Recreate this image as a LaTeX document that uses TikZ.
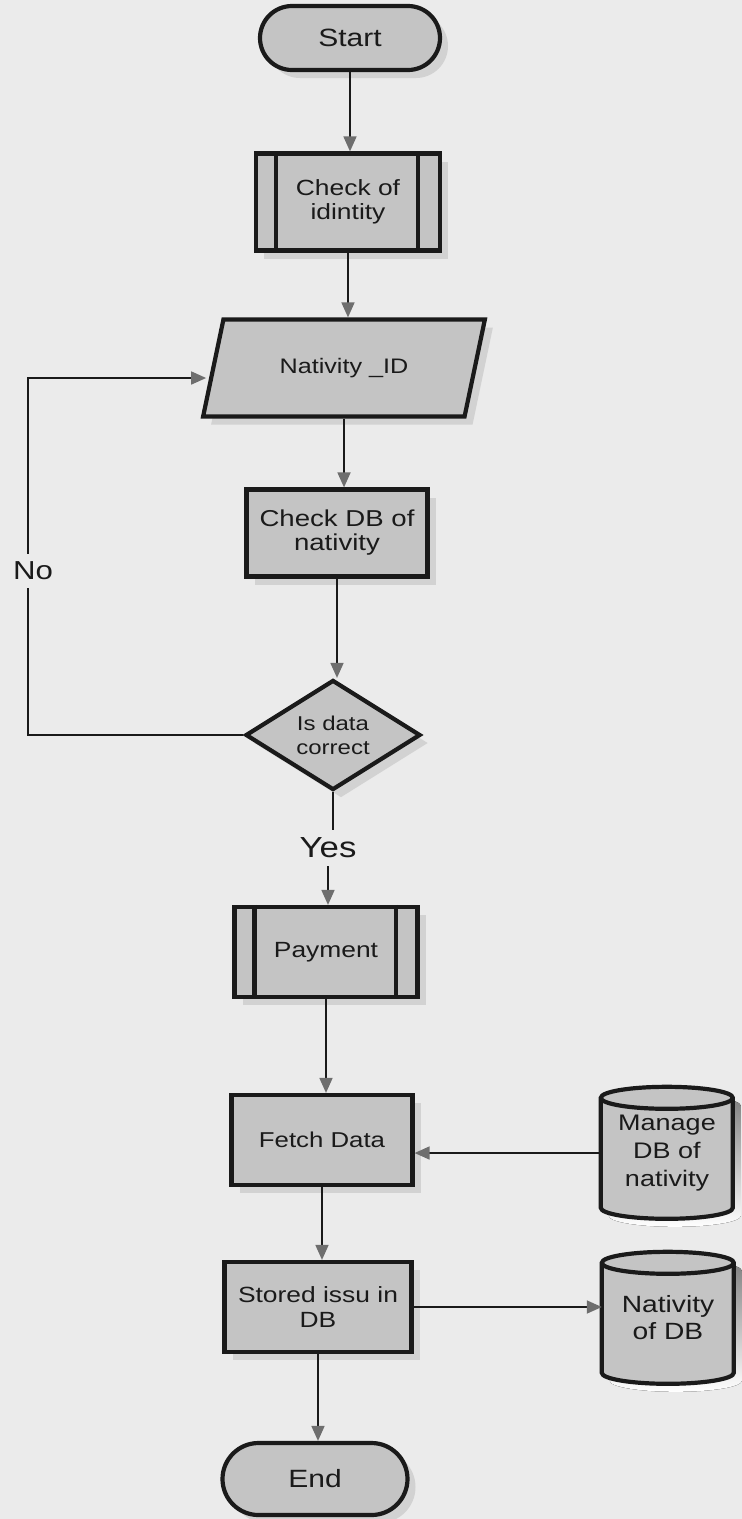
\documentclass[tikz,border=0pt]{standalone}
\usepackage{fontspec}
\setmainfont{Liberation Sans}[FakeStretch=1.2]
\usetikzlibrary{shapes.geometric,shadows,arrows.meta}
\pgfdeclarelayer{bg}
\pgfsetlayers{bg,main}
\definecolor{paper}{HTML}{EBEBEB}
\definecolor{boxfill}{HTML}{C4C4C4}
\definecolor{shade}{HTML}{D2D2D2}
\definecolor{tipc}{HTML}{6E6E6E}
\definecolor{ink}{HTML}{1A1A1A}
\begin{document}
\begin{tikzpicture}[x=1pt,y=-1pt,
  sz/.style 2 args={font=\fontsize{#1}{#2}\selectfont},
  shp/.style={draw=ink, line width=4.2pt, fill=boxfill, text=ink, align=center, inner sep=0pt,
     drop shadow={shadow xshift=8pt, shadow yshift=-8pt, fill=shade, opacity=1}},
  termbox/.style={shp, rectangle, rounded corners=#1},
  procbox/.style={shp, rectangle},
  conn/.style={draw=ink, line width=1.7pt, -{Triangle[length=15pt,width=13pt,color=tipc]}},
  plainline/.style={draw=ink, line width=1.7pt},
  thickline/.style={draw=ink, line width=4.2pt},
  cyl/.style={draw=ink, line width=4.2pt, fill=boxfill},
  dbtext/.style={minimum width=132pt, minimum height=132pt, inner sep=0pt, align=center, text=ink},
  lbl/.style={text=ink, inner sep=0pt}
]
\begin{pgfonlayer}{bg}
\fill[paper] (0,0) rectangle (742,1519);
\end{pgfonlayer}
\useasboundingbox (0,0) rectangle (742,1519);

% nodes
\node[termbox=32pt, minimum width=180pt, minimum height=64pt, sz={25}{28}] (start) at (350,38) {Start};
\node[procbox, minimum width=184pt, minimum height=97pt, sz={22}{24}] (ident) at (348,202) {Check of\\idintity};
\draw[thickline] ([xshift=22pt]ident.north west) -- ([xshift=22pt]ident.south west);
\draw[thickline] ([xshift=-24pt]ident.north east) -- ([xshift=-24pt]ident.south east);

\node[shp, trapezium, trapezium left angle=61, trapezium right angle=119, trapezium stretches=true,
      minimum width=282pt, minimum height=97pt, sz={21}{24}] (nat) at (344,368) {Nativity \_ID};

\node[procbox, minimum width=181pt, minimum height=87pt, sz={23}{24}] (chk) at (337,533) {Check DB of\\nativity};

\node[shp, diamond, aspect=1.6, minimum width=175pt, minimum height=110pt, sz={20}{24}] (dec) at (333,735) {Is data\\correct};

\node[lbl, minimum height=36pt, sz={29}{30}] (yes) at (328,848) {Yes};

\node[procbox, minimum width=183pt, minimum height=90pt, sz={22}{24}] (pay) at (326,952) {Payment};
\draw[thickline] ([xshift=22pt]pay.north west) -- ([xshift=22pt]pay.south west);
\draw[thickline] ([xshift=-24pt]pay.north east) -- ([xshift=-24pt]pay.south east);

\node[procbox, minimum width=181pt, minimum height=90pt, sz={21.5}{24}] (fetch) at (322,1140) {Fetch Data};
\node[procbox, minimum width=187pt, minimum height=90pt, sz={22}{25}] (store) at (318,1307) {Stored issu in\\DB};
\node[termbox=36pt, minimum width=185pt, minimum height=72pt, sz={25}{28}] (end) at (315,1479) {End};

\node[dbtext, sz={22.5}{28}] (mdb) at (667,1153) {Manage\\DB of\\nativity};
\node[dbtext, sz={23.5}{27}] (ndb) at (668,1318) {Nativity\\of DB};

% cylinders behind their texts
\begin{pgfonlayer}{bg}
\foreach \c in {mdb,ndb}{
  \fill[shade] ([shift={(8pt,-8pt)},yshift=-11pt]\c.north west) -- ++(0pt,-110pt)
     arc[start angle=180,end angle=360,x radius=66pt,y radius=11pt] -- ++(0pt,110pt)
     arc[start angle=0,end angle=180,x radius=66pt,y radius=11pt] -- cycle;
  \draw[cyl] ([yshift=-11pt]\c.north west) -- ++(0pt,-110pt)
     arc[start angle=180,end angle=360,x radius=66pt,y radius=11pt] -- ++(0pt,110pt)
     arc[start angle=0,end angle=180,x radius=66pt,y radius=11pt] -- cycle;
  \draw[thickline] ([yshift=-11pt]\c.north west)
     arc[start angle=180,end angle=360,x radius=66pt,y radius=11pt];
}
\end{pgfonlayer}

% connectors
\draw[conn] (start.south) -- (start.south |- ident.north);
\draw[conn] (ident.south) -- (ident.south |- nat.north);
\draw[conn] (nat.south) -- (nat.south |- chk.north);
\draw[conn] (chk.south) -- (chk.south |- dec.north);
\draw[plainline] (dec.south) -- (dec.south |- yes.north);
\draw[conn] (yes.south) -- (yes.south |- pay.north);
\draw[conn] (pay.south) -- (pay.south |- fetch.north);
\draw[conn] (mdb.west) -- (mdb.west -| fetch.east);
\draw[conn] (fetch.south) -- (fetch.south |- store.north);
\draw[conn] (store.east) -- (store.east -| ndb.west);
\draw[conn] (store.south) -- (store.south |- end.north);

\coordinate (nox) at (28,735);
\draw[conn] (dec.west) -- (nox) |- ([shift={(-5pt,-10pt)}]nat.west);
\node[lbl, fill=paper, inner ysep=8pt, inner xsep=1pt, sz={26}{28}] (no) at (33,571) {No};
\end{tikzpicture}
\end{document}
